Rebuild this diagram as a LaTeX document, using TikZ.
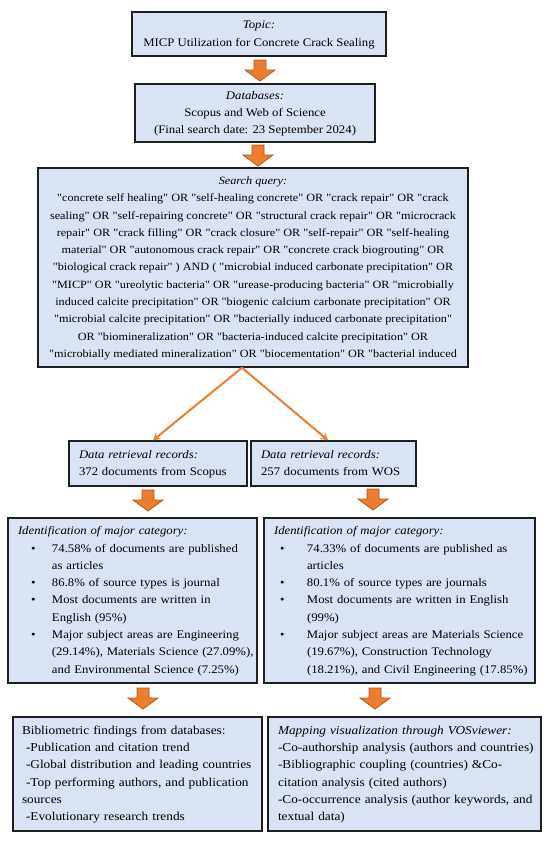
\documentclass[tikz,border=0pt]{standalone}
\usepackage{fontspec}
\setmainfont{Liberation Serif}[FakeStretch=1.1, Ligatures=TeXOff]
\usetikzlibrary{arrows.meta,calc}
\definecolor{boxfill}{HTML}{DAE3F3}
\definecolor{boxline}{HTML}{1F1F1F}
\definecolor{orfill}{HTML}{ED7D31}
\definecolor{orline}{HTML}{B35818}
\newcommand\bulA{\hspace*{13pt}\makebox[21pt][l]{\textbullet}}
\newcommand\indA{\hspace*{34pt}}
\newcommand\bulB{\hspace*{6pt}\makebox[27pt][l]{\textbullet}}
\newcommand\indB{\hspace*{33pt}}
\newcommand\blockarrow[3]{%
  \coordinate (#1) at (#2,#3);
  \draw[barrow] ($(#1)+(-6,0)$) -- ($(#1)+(6,0)$) -- ($(#1)+(6,10)$) -- ($(#1)+(15,10)$)
    -- ($(#1)+(0,21)$) -- ($(#1)+(-15,10)$) -- ($(#1)+(-6,10)$) -- cycle;}
\tikzset{
  box/.style={draw=boxline, line width=1.4pt, fill=boxfill, inner ysep=0pt, text=black},
  cbox/.style={box, inner xsep=4pt, align=center},
  lbox/.style={box, inner xsep=10pt, align=left},
  fmain/.style={font={\fontsize{11.6}{17.3}\selectfont}},
  fquery/.style={font={\fontsize{11.1}{17.3}\selectfont}},
  fbottom/.style={font={\fontsize{12.1}{17.3}\selectfont}},
  barrow/.style={draw=orline, fill=orfill, line width=0.8pt, line join=miter},
  conn/.style={draw=orfill, line width=2pt, -{Stealth[length=7pt,width=8pt]}}
}
\begin{document}
\begin{tikzpicture}[x=1pt,y=-1pt]
\useasboundingbox[fill=white] (0,0) rectangle (550,844);

% Topic
\node[cbox, fmain, minimum width=254pt, minimum height=44pt] (topic) at (259,34)
  {\begin{tabular}{@{}c@{}}\fontsize{11.6}{18}\selectfont\textit{Topic:}\\
   \fontsize{11.6}{18}\selectfont MICP Utilization for Concrete Crack Sealing\end{tabular}};

% Databases
\node[cbox, fmain, minimum width=240pt, minimum height=58pt] (db) at (255,113)
  {\begin{tabular}{@{}c@{}}\fontsize{11.6}{16}\selectfont\textit{Databases:}\\
   \fontsize{11.6}{16}\selectfont Scopus and Web of Science\\
   \fontsize{11.6}{16}\selectfont (Final search date: 23 September 2024)\end{tabular}};

% Search query
\node[cbox, fquery, minimum width=430pt, minimum height=199pt] (query) at (253,267.5)
  {\begin{tabular}{@{}c@{}}
   \textit{Search query:}\\
   "concrete self healing" OR "self-healing concrete" OR "crack repair" OR "crack\\
   sealing" OR "self-repairing concrete" OR "structural crack repair" OR "microcrack\\
   repair" OR "crack filling" OR "crack closure" OR "self-repair" OR "self-healing\\
   material" OR "autonomous crack repair" OR "concrete crack biogrouting" OR\\
   "biological crack repair" ) AND ( "microbial induced carbonate precipitation" OR\\
   "MICP" OR "ureolytic bacteria" OR "urease-producing bacteria" OR "microbially\\
   induced calcite precipitation" OR "biogenic calcium carbonate precipitation" OR\\
   "microbial calcite precipitation" OR "bacterially induced carbonate precipitation"\\
   OR "biomineralization" OR "bacteria-induced calcite precipitation" OR\\
   "microbially mediated mineralization" OR "biocementation" OR "bacterial induced
   \end{tabular}};

% Data retrieval
\node[lbox, fmain, text width=158pt, minimum height=45pt] (dataL) at (158,463.5)
  {\begin{tabular}{@{}l@{}}\fontsize{11.6}{17}\selectfont\textit{Data retrieval records:}\\
   \fontsize{11.6}{17}\selectfont 372 documents from Scopus\end{tabular}};
\node[lbox, fmain, text width=145pt, minimum height=45pt] (dataR) at (333.5,463.5)
  {\begin{tabular}{@{}l@{}}\fontsize{11.6}{17}\selectfont\textit{Data retrieval records:}\\
   \fontsize{11.6}{17}\selectfont 257 documents from WOS\end{tabular}};

% Identification
\node[lbox, fmain, text width=229pt, minimum height=165pt] (idL) at (132.5,600.5)
  {\begin{tabular}{@{}l@{}}
   \textit{Identification of major category:}\\
   \bulA 74.58\% of documents are published\\
   \indA as articles\\
   \bulA 86.8\% of source types is journal\\
   \bulA Most documents are written in\\
   \indA English (95\%)\\
   \bulA Major subject areas are Engineering\\
   \indA (29.14\%), Materials Science (27.09\%),\\
   \indA and Environmental Science (7.25\%)
   \end{tabular}};
\node[lbox, fmain, text width=251pt, minimum height=165pt] (idR) at (399.5,600.5)
  {\begin{tabular}{@{}l@{}}
   \textit{Identification of major category:}\\
   \bulB 74.33\% of documents are published as\\
   \indB articles\\
   \bulB 80.1\% of source types are journals\\
   \bulB Most documents are written in English\\
   \indB (99\%)\\
   \bulB Major subject areas are Materials Science\\
   \indB (19.67\%), Construction Technology\\
   \indB (18.21\%), and Civil Engineering (17.85\%)
   \end{tabular}};

% Bottom boxes
\node[lbox, fbottom, text width=231pt, inner xsep=9pt, minimum height=114pt] (botL) at (137.5,774)
  {\begin{tabular}{@{}l@{}}
   Bibliometric findings from databases:\\
   \hspace*{4pt}-Publication and citation trend\\
   \hspace*{4pt}-Global distribution and leading countries\\
   \hspace*{4pt}-Top performing authors, and publication\\
   sources\\
   \hspace*{4pt}-Evolutionary research trends
   \end{tabular}};
\node[lbox, fbottom, text width=253pt, minimum height=114pt] (botR) at (404.5,774)
  {\begin{tabular}{@{}l@{}}
   \textit{Mapping visualization through VOSviewer:}\\
   -Co-authorship analysis (authors and countries)\\
   -Bibliographic coupling (countries) \&Co-\\
   citation analysis (cited authors)\\
   -Co-occurrence analysis (author keywords, and\\
   textual data)
   \end{tabular}};

% Block arrows
\blockarrow{a1}{260}{60}
\blockarrow{a2}{258}{145}
\blockarrow{a3}{148}{490}
\blockarrow{a4}{373}{489}
\blockarrow{a5}{143}{688}
\blockarrow{a6}{375}{688}

% Split connectors
\coordinate (split) at ([xshift=-11pt]query.south);
\draw[conn] (split) -- ([xshift=-5pt]dataL.north);
\draw[conn] (split) -- ([xshift=-5.5pt]dataR.north);
\end{tikzpicture}
\end{document}
